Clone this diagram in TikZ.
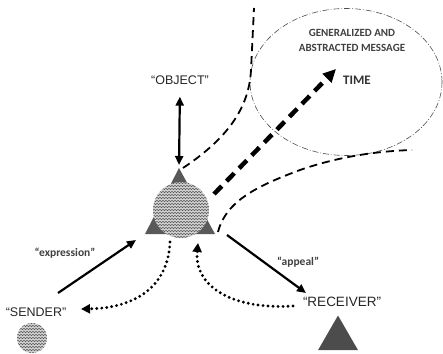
\documentclass[tikz,border=0pt]{standalone}
\usepackage{fontspec}
\setmainfont{Carlito}
\newfontfamily\labelfont{Liberation Sans}
\usetikzlibrary{arrows.meta,shapes.geometric,decorations.pathmorphing}
\begin{document}
\begin{tikzpicture}[x=1pt,y=-1pt,
  lbl/.style={font=\labelfont\fontsize{12.5}{15}\selectfont, text=black!85, inner sep=0pt},
  quote/.style={font=\bfseries\fontsize{11.5}{13}\selectfont, text=black!75, inner sep=0pt},
  msgtxt/.style={font=\bfseries\fontsize{11}{15}\selectfont, text=black!75, align=center, inner sep=0pt},
  wavy/.style={fill=gray!35, path picture={
     \foreach \yy in {-33,-30,...,33}
       \draw[black!65, line width=0.5pt, decorate, decoration={snake,amplitude=0.8pt,segment length=3pt}]
         ([yshift=\yy pt, xshift=-3pt]path picture bounding box.west) -- ([yshift=\yy pt, xshift=3pt]path picture bounding box.east);}},
  solidarr/.style={line width=2.2pt, -{Triangle[length=9pt,width=8pt]}},
  dblarr/.style={line width=2.2pt, {Triangle[length=9pt,width=8pt]}-{Triangle[length=9pt,width=8pt]}},
  dotarr/.style={line width=3.2pt, dash pattern=on 0pt off 5pt, line cap=round, -{Triangle[length=9pt,width=9pt]}},
  funnel/.style={line width=1.8pt, dash pattern=on 8pt off 5pt},
  bigdash/.style={line width=4.5pt, dash pattern=on 11pt off 7pt, -{Triangle[length=13pt,width=12pt]}},
  cloud/.style={draw=black!70, line width=0.6pt, dash pattern=on 6pt off 2pt on 0.8pt off 2pt},
  tri/.style={fill=black!65}
]
\useasboundingbox (0,0) rectangle (443,353);

% coordinates
\coordinate (apex) at (179,168);
\coordinate (bl) at (145,234);
\coordinate (br) at (215,234);
\coordinate (fL0) at (183,168);
\coordinate (fL1) at (251,70);
\coordinate (fL2) at (254,8);
\coordinate (fR0) at (218,232);
\coordinate (fR1) at (300,170);
\coordinate (fR2) at (412,150);
\coordinate (tS) at (214,194);
\coordinate (tE) at (336,69);
\coordinate (eS) at (58,293);
\coordinate (eE) at (136,240);
\coordinate (aS) at (227,235);
\coordinate (aE) at (306,293);
\coordinate (dS) at (170,242);
\coordinate (dE) at (81,309);
\coordinate (rS) at (293,306);
\coordinate (rE) at (198,243);

% generalized message ellipse
\node[cloud, ellipse, minimum width=192pt, minimum height=147pt] (cloud) at (346,82) {};
\node[msgtxt] (gen) at (352,40) {GENERALIZED AND\\ABSTRACTED MESSAGE};
\node[font=\bfseries\fontsize{13}{15}\selectfont, text=black!80, inner sep=0pt] (time) at (357,80) {TIME};

% funnel
\draw[funnel] (fL0) .. controls (225,140) and (249,110) .. (fL1) -- (fL2);
\draw[funnel] (fR0) .. controls (226,200) and (260,185) .. (fR1) .. controls (340,156) and (380,151) .. (fR2);

% time arrow
\draw[bigdash] (tS) -- (tE);

% central sign
\path[tri] (apex) -- (br) -- (bl) -- cycle;
\node[circle, wavy, minimum size=56pt, inner sep=0pt] (msg) at (181,210) {};

% object
\node[lbl] (object) at (180,80) {“OBJECT”};
\draw[dblarr, shorten <=12pt, shorten >=3pt] (object.south) -- (apex);

% sender
\node[lbl] (sendlbl) at (36,312) {“SENDER”};
\node[circle, wavy, minimum size=30pt, inner sep=0pt] (sender) at (32,338) {};

% receiver
\node[lbl, font=\labelfont\fontsize{13.5}{15}\selectfont] (reclbl) at (342,302) {“RECEIVER”};
\node[regular polygon, regular polygon sides=3, minimum size=46pt, inner sep=0pt, fill=black!70] (receiver) at (338,338.5) {};

% expression / appeal
\draw[solidarr] (eS) -- (eE);
\node[quote] (expr) at (65,253) {“expression”};
\draw[solidarr] (aS) -- (aE);
\node[quote] (appeal) at (298,262) {“appeal”};

% dotted
\draw[dotarr] (dS) .. controls (168,287) and (135,308) .. (dE);
\draw[dotarr] (rS) .. controls (230,310) and (194,285) .. (rE);
\end{tikzpicture}
\end{document}
